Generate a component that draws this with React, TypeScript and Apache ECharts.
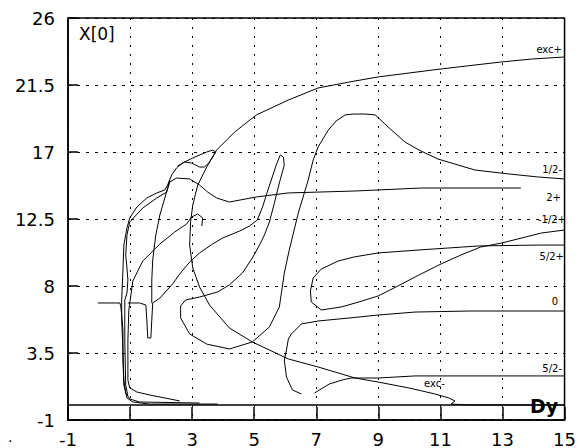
import React, { useEffect, useRef } from "react";
import * as echarts from "echarts";

// Axis ticks
const xTicks = [-1, 1, 3, 5, 7, 9, 11, 13, 15];
const yTicks = [-1, 3.5, 8, 12.5, 17, 21.5, 26];

// Curves, [Dy, X[0]] pairs
const excCurve = [[15.0, 23.38], [13.97, 23.25], [12.94, 23.04], [11.85, 22.78], [10.76, 22.51], [8.99, 22.04], [8.06, 21.7], [7.06, 21.3], [6.1, 20.49], [5.07, 19.49], [4.37, 18.34], [3.79, 17.13], [3.47, 15.99], [3.18, 14.78], [3.02, 13.44], [2.95, 12.3], [2.92, 10.75], [3.02, 9.21], [3.24, 7.93], [3.56, 6.72], [4.2, 5.18], [4.94, 4.24], [6.1, 3.1], [7.06, 2.56], [8.25, 1.82], [8.99, 1.55], [9.99, 1.15], [10.82, 0.75], [11.27, 0.48], [11.47, 0.28], [11.34, 0.07], [11.92, 0.01], [15.0, 0.01]];

const halfMinus = [[15.0, 15.19], [14.16, 15.32], [13.23, 15.52], [12.11, 15.79], [10.92, 16.53], [10.31, 17.13], [9.86, 17.67], [9.35, 18.61], [8.9, 19.49], [8.57, 19.55], [8.19, 19.55], [7.93, 19.49], [7.64, 19.08], [7.39, 18.48], [7.06, 17.34], [6.9, 16.46], [6.74, 15.12], [6.42, 12.9], [6.13, 10.42], [5.97, 8.87], [5.81, 6.59], [5.49, 5.25], [4.94, 4.24], [4.2, 3.77], [3.47, 4.1], [2.92, 4.78], [2.63, 5.85], [2.63, 6.66], [2.79, 7.06], [3.24, 7.26], [3.82, 7.6], [4.2, 8.07], [4.62, 8.87], [4.94, 9.88], [5.17, 10.75], [5.33, 11.43], [5.49, 12.3], [5.65, 13.57], [5.81, 14.92], [5.97, 16.13], [5.94, 16.66], [5.84, 16.8], [5.71, 16.13], [5.55, 15.12], [5.39, 14.11], [5.27, 13.31], [5.1, 12.43], [4.85, 12.03], [4.53, 11.69], [3.98, 11.22], [3.66, 10.82], [3.24, 10.22], [2.92, 9.61], [2.6, 8.81], [2.37, 8.13], [1.96, 7.19], [1.73, 6.86], [1.7, 5.72], [1.67, 4.51], [1.57, 4.51], [1.54, 5.72], [1.51, 6.72], [1.31, 6.86], [0.93, 6.86]];

const twoPlus = [[0.93, 0.61], [0.86, 1.35], [0.83, 4.37], [0.83, 7.06], [0.9, 7.53], [0.93, 8.4], [0.9, 9.21], [0.86, 10.08], [0.9, 11.43], [0.99, 12.3], [1.41, 13.24], [1.86, 13.91], [2.18, 14.31], [2.28, 14.99], [2.5, 15.25], [2.92, 15.19], [3.24, 14.78], [3.5, 14.31], [3.79, 13.91], [4.2, 13.64], [5.07, 13.98], [6.1, 14.25], [8.25, 14.38], [10.37, 14.58], [13.59, 14.58]];

const leafOuter = [[3.24, 0.14], [1.31, 0.21], [0.99, 0.41], [0.86, 0.81], [0.8, 1.69], [0.77, 3.7], [0.73, 5.72], [0.73, 7.06], [0.77, 9.07], [0.8, 10.75], [0.9, 11.9], [0.99, 12.57], [1.22, 13.31], [1.54, 13.91], [1.86, 14.25], [2.12, 14.45], [2.21, 14.78], [2.34, 15.46], [2.5, 15.93], [2.69, 16.26], [3.02, 16.6], [3.47, 17.0], [3.66, 17.13], [3.76, 17.0], [3.56, 16.33], [3.4, 15.99], [3.24, 15.99], [2.98, 16.26], [2.76, 16.33], [2.53, 16.06]];

const stepLine = [[-0.04, 6.86], [0.67, 6.86], [0.7, 6.66], [0.73, 6.05], [0.77, 5.04], [0.77, 3.03], [0.8, 1.35], [0.9, 0.48], [1.09, 0.21], [1.63, 0.07], [3.82, 0.07]];

const dropLine = [[2.28, 15.12], [2.12, 13.91], [1.96, 12.77], [1.83, 11.43], [1.73, 9.75], [1.7, 8.4], [1.7, 6.86]];

const risingLine = [[2.6, 0.28], [2.12, 0.48], [1.63, 0.68], [1.22, 0.88], [0.99, 1.15], [0.93, 1.69], [0.93, 4.37], [0.96, 6.39], [1.09, 8.34], [1.41, 9.68], [1.96, 10.82], [2.44, 11.63], [2.82, 12.16], [2.98, 12.63], [3.18, 12.84], [3.34, 12.57], [3.31, 12.03]];

const zeroCurve = [[15.0, 6.32], [14.33, 6.32], [11.95, 6.32], [10.18, 6.25], [8.99, 6.05], [8.06, 5.85], [7.06, 5.65], [6.52, 5.45], [6.2, 4.78], [6.1, 4.44], [6.04, 3.7], [5.97, 3.03], [6.04, 1.89], [6.23, 1.02], [6.52, 0.75]];

const fiveHalfMinus = [[6.94, 0.81], [7.42, 1.42], [7.84, 1.69], [8.12, 1.82], [8.67, 1.82], [8.99, 1.82], [10.18, 1.96], [15.0, 1.96]];

const fiveHalfPlusLoop = [[15.0, 10.75], [14.16, 10.75], [12.24, 10.69], [11.24, 10.55], [10.31, 10.42], [8.99, 10.22], [8.22, 9.95], [7.71, 9.68], [7.16, 9.14], [6.9, 8.54], [6.81, 7.66], [6.84, 6.93], [7.16, 6.39], [7.8, 6.59], [8.38, 6.93], [8.99, 7.33], [9.63, 8.0], [10.31, 8.74], [11.02, 9.48], [11.66, 10.08], [12.3, 10.62], [12.98, 10.89], [14.26, 11.56], [15.0, 11.76]];

const dyLine = [[-1, 0], [15, 0]];

export default function App() {
  const ref = useRef<HTMLDivElement>(null);
  useEffect(() => {
    document.body.style.margin = "0";
    const chart = echarts.init(ref.current as HTMLDivElement, null, { renderer: "svg" });
    const mk = (name: string, data: number[][], width = 1) => ({
      name,
      type: "line",
      data,
      showSymbol: false,
      symbol: "none",
      silent: true,
      lineStyle: { color: "#000", width },
      itemStyle: { color: "#000" },
    });
    const lbl = (text: string, x: number, y: number, align: string, size = 10, weight = "normal") => ({
      type: "text",
      x,
      y,
      silent: true,
      z: 100,
      style: {
        text,
        fill: "#000",
        fontSize: size,
        fontWeight: weight,
        fontFamily: "DejaVu Sans",
        align,
        textAlign: align,
        verticalAlign: "middle",
        textVerticalAlign: "middle",
      },
    });
    const axisFont = { color: "#000", fontSize: 18, fontFamily: "DejaVu Sans" };
    chart.setOption({
      animation: false,
      backgroundColor: "#fff",
      grid: { left: 68, right: 13, top: 18, bottom: 28, show: true, borderColor: "#000", borderWidth: 1.5 },
      xAxis: {
        type: "value",
        min: xTicks[0],
        max: xTicks[xTicks.length - 1],
        interval: xTicks[1] - xTicks[0],
        axisLine: { show: true, onZero: false, lineStyle: { color: "#000", width: 1.5 } },
        axisTick: { show: true, inside: true, length: 13, lineStyle: { color: "#000", width: 1.5 } },
        axisLabel: { ...axisFont, margin: 10 },
        splitLine: { show: true, lineStyle: { color: "#000", width: 1, type: [2, 7] } },
      },
      yAxis: {
        type: "value",
        min: yTicks[0],
        max: yTicks[yTicks.length - 1],
        interval: yTicks[1] - yTicks[0],
        axisLine: { show: true, onZero: false, lineStyle: { color: "#000", width: 1.5 } },
        axisTick: { show: true, inside: true, length: 10, lineStyle: { color: "#000", width: 1.5 } },
        axisLabel: { ...axisFont, margin: 13 },
        splitLine: { show: true, lineStyle: { color: "#000", width: 1, type: [3, 6] } },
      },
      series: [
        mk("dy", dyLine, 1.5),
        mk("exc", excCurve),
        mk("1/2-", halfMinus),
        mk("2+", twoPlus),
        mk("leaf", leafOuter),
        mk("step", stepLine),
        mk("drop", dropLine),
        mk("rising", risingLine),
        mk("0", zeroCurve),
        mk("5/2-", fiveHalfMinus),
        mk("5/2+", fiveHalfPlusLoop),
      ],
      graphic: [
        lbl("exc+", 562, 49, "right"),
        lbl("1/2-", 562, 169, "right"),
        lbl("2+", 561, 197, "right"),
        lbl("-1/2+", 566, 219, "right"),
        lbl("5/2+", 564, 256, "right"),
        lbl("0", 558, 301, "right"),
        lbl("5/2-", 562, 368, "right"),
        lbl("exc-", 424, 383, "left"),
        lbl("X[0]", 79, 34, "left", 17),
        lbl("Dy", 530, 406, "left", 19, "bold"),
        lbl(".", 8, 437, "left", 14),
      ],
    });
    return () => chart.dispose();
  }, []);
  return <div ref={ref} style={{ position: "absolute", left: 0, top: 0, width: 579, height: 448 }} />;
}
